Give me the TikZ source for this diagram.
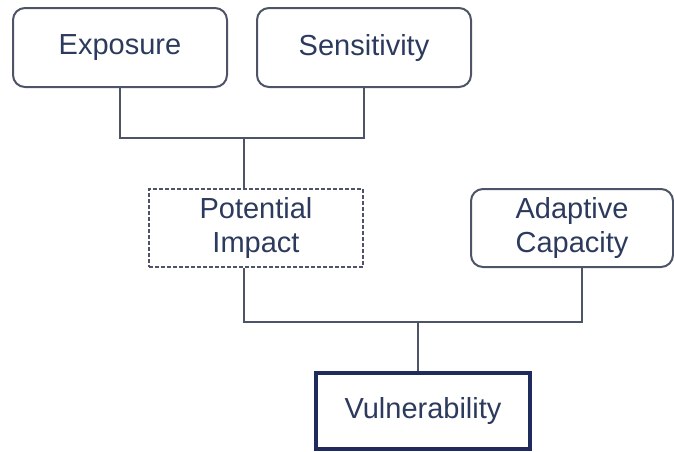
\documentclass[tikz,border=0pt]{standalone}
\usepackage{fontspec}
\setmainfont{Liberation Sans}
\usetikzlibrary{positioning, calc}
\definecolor{vgray}{HTML}{4E5467}
\definecolor{vtext}{HTML}{2C3A5E}
\definecolor{vnavy}{HTML}{1F2B5C}

\begin{document}
\begin{tikzpicture}[
  x=1pt, y=-1pt,
  font=\fontsize{29}{34}\selectfont,
  box/.style={draw=vgray, line width=2pt, rounded corners=12pt, text=vtext,
    minimum width=214pt, minimum height=79pt, align=center, inner sep=0pt},
  dashbox/.style={box, rounded corners=0pt, line width=2.2pt, dash pattern=on 4pt off 2pt},
  keybox/.style={box, draw=vnavy, rounded corners=0pt, line width=3.2pt},
  conn/.style={line width=2pt, vgray}
]
\useasboundingbox (0,0) rectangle (674,451);
\node[box] (exposure) at (120,47.5) {Exposure};
\node[box] (sensitivity) at (364,47.5) {Sensitivity};
\node[dashbox, minimum height=78pt] (potential) at (256,228) {Potential\\Impact};
\node[box, minimum width=202pt, minimum height=78pt] (adaptive) at (572,228) {Adaptive\\Capacity};
\node[keybox, minimum height=76pt] (vuln) at (423,411) {Vulnerability};
\coordinate (upjoin) at (244,138);
\coordinate (lowjoin) at (418,322);
\draw[conn] (exposure.south) |- (sensitivity.south |- upjoin) -- (sensitivity.south);
\draw[conn] (upjoin) -- (upjoin |- potential.north);
\draw[conn] (upjoin |- potential.south) |- (lowjoin) -| ([xshift=10pt]adaptive.south);
\draw[conn] (lowjoin) -- (lowjoin |- vuln.north);
\end{tikzpicture}
\end{document}
